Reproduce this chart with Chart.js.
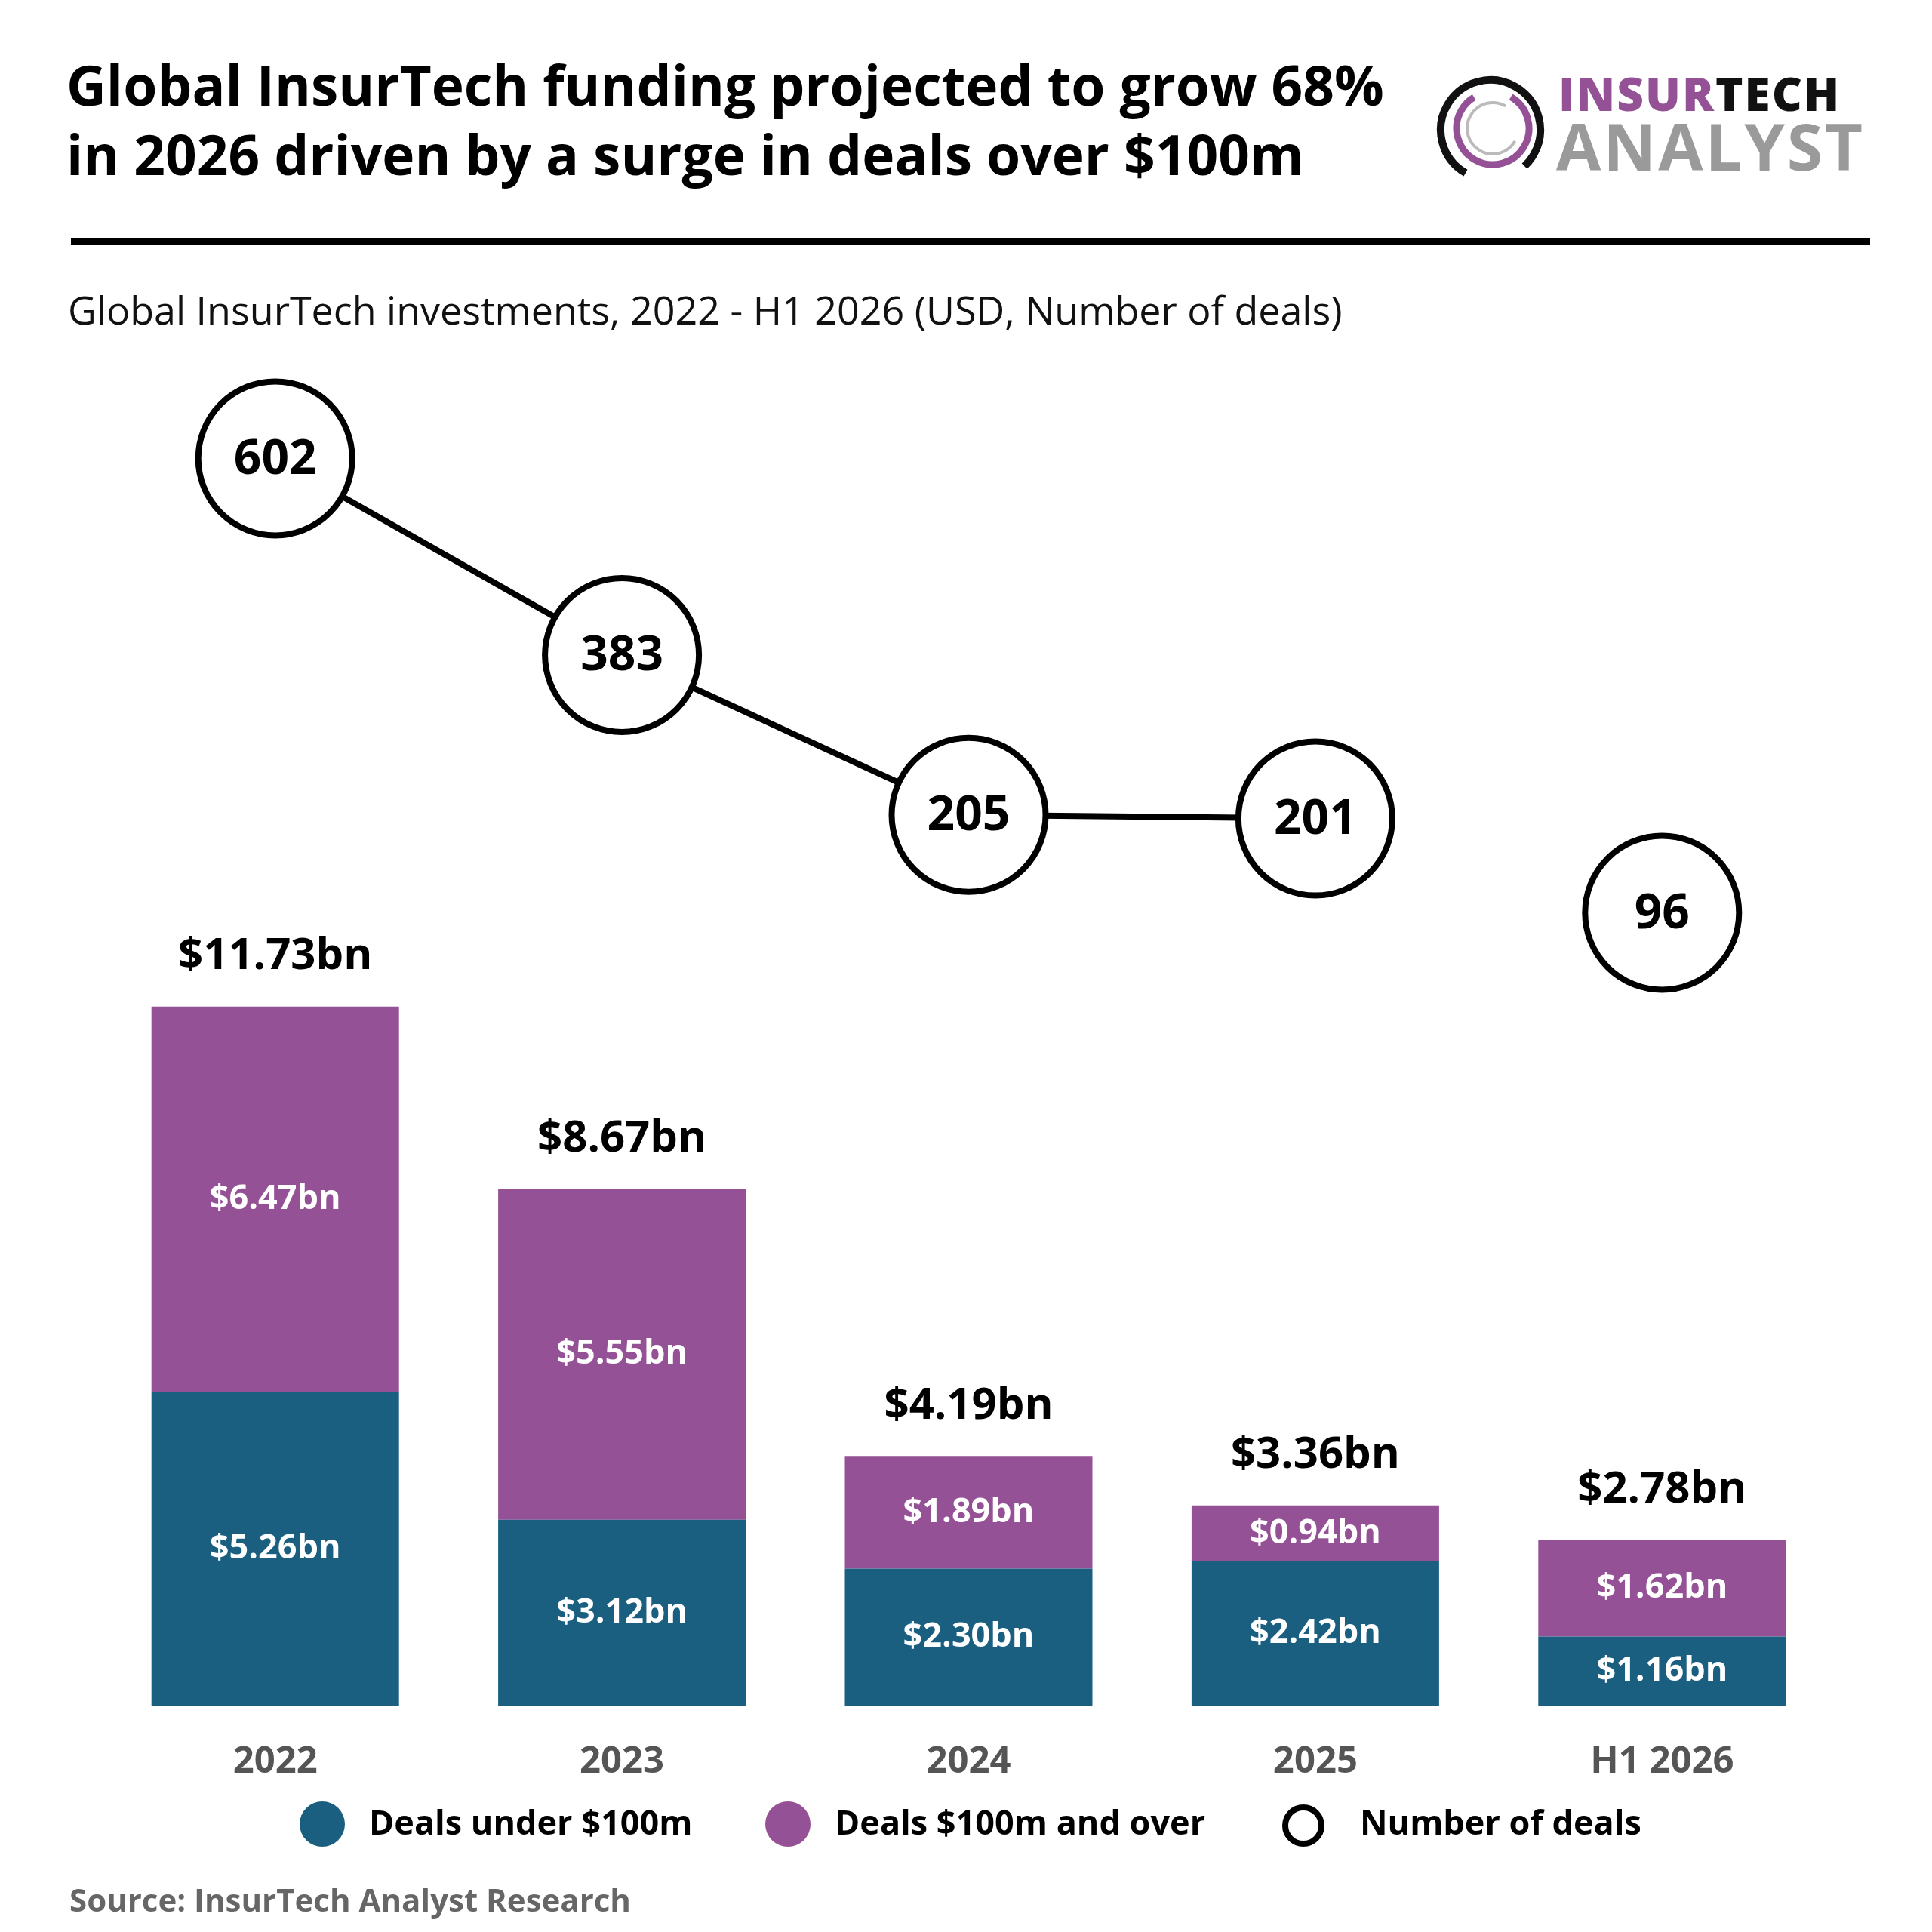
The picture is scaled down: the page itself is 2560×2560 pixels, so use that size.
<!DOCTYPE html>
<html>
<head>
<meta charset="utf-8">
<script src="https://cdn.jsdelivr.net/npm/chart.js@4.4.1/dist/chart.umd.min.js"></script>
<style>
  html, body { margin: 0; padding: 0; background: #fff; }
  #page { position: relative; width: 2560px; height: 2560px; overflow: hidden; font-family: "Open Sans", sans-serif; }
  #page div { position: absolute; white-space: nowrap; }
  .title { left: 88px; top: 66px; font-size: 73px; font-weight: 700; line-height: 92px; color: #000; }
  .rule { left: 94px; top: 316px; width: 2384px; height: 8px; background: #000; }
  .sub { left: 90px; top: 374px; font-size: 52px; color: #111; }
  .source { left: 92px; top: 2488px; font-size: 42px; font-weight: 700; color: #666; }
  canvas { position: absolute; left: 0; top: 0; }
</style>
</head>
<body>
<div id="page">
  <div class="title">Global InsurTech funding projected to grow 68%<br>in 2026 driven by a surge in deals over $100m</div>
  <svg style="position:absolute;left:1900px;top:95px" width="150" height="155" viewBox="0 0 150 155">
    <circle cx="75" cy="77" r="66" fill="none" stroke="#111" stroke-width="10" stroke-dasharray="330 85" transform="rotate(120 75 77)"/>
    <circle cx="78" cy="75" r="48" fill="none" stroke="#955196" stroke-width="9" stroke-dasharray="250 60" transform="rotate(-60 78 75)"/>
    <circle cx="78" cy="75" r="34" fill="none" stroke="#bbb" stroke-width="4" stroke-dasharray="160 60" transform="rotate(30 78 75)"/>
  </svg>
  <div style="left:2065px;top:88px;font-size:62px;font-weight:800;letter-spacing:2px;line-height:70px"><span style="color:#955196">INSUR</span><span style="color:#111">TECH</span></div>
  <div style="left:2062px;top:145px;font-size:86px;font-weight:700;letter-spacing:3px;color:#9a9a9a;line-height:96px">ANALYST</div>
  <div class="rule"></div>
  <div class="sub">Global InsurTech investments, 2022 - H1 2026 (USD, Number of deals)</div>
  <canvas id="c" width="2560" height="2560"></canvas>
  <div class="source">Source: InsurTech Analyst Research</div>
</div>
<script>
const years = ['2022', '2023', '2024', '2025', 'H1 2026'];
const under100m = [5.26, 3.12, 2.30, 2.42, 1.16];
const over100m = [6.47, 5.55, 1.89, 0.94, 1.62];
const totals = [11.73, 8.67, 4.19, 3.36, 2.78];
const dealCounts = [602, 383, 205, 201, 96];

const TEAL = '#1a5f80';
const PURPLE = '#955196';
const FONT = '"Open Sans", sans-serif';

const labelPlugin = {
  id: 'labels',
  afterDatasetsDraw(chart) {
    const ctx = chart.ctx;
    const x = chart.scales.x;
    const yb = chart.scales.y;
    ctx.save();
    ctx.textAlign = 'center';
    ctx.textBaseline = 'middle';
    // segment labels
    [0, 1].forEach(di => {
      chart.getDatasetMeta(di).data.forEach((bar, i) => {
        const v = chart.data.datasets[di].data[i];
        ctx.fillStyle = '#fff';
        ctx.font = '700 45px ' + FONT;
        ctx.fillText('$' + v.toFixed(2) + 'bn', bar.x, (bar.y + bar.base) / 2);
      });
    });
    // totals
    totals.forEach((t, i) => {
      ctx.fillStyle = '#000';
      ctx.font = '700 58px ' + FONT;
      ctx.fillText('$' + t.toFixed(2) + 'bn', x.getPixelForValue(i), yb.getPixelForValue(t) - 66);
    });
    // x tick labels
    years.forEach((y, i) => {
      ctx.fillStyle = '#555';
      ctx.font = '700 49px ' + FONT;
      ctx.fillText(y, x.getPixelForValue(i), 2335);
    });
    // circle numbers
    chart.getDatasetMeta(2).data.forEach((pt, i) => {
      ctx.fillStyle = '#000';
      ctx.font = '700 64px ' + FONT;
      ctx.fillText(String(dealCounts[i]), pt.x, pt.y + 2);
    });
    // legend
    ctx.textAlign = 'left';
    ctx.font = '700 45px ' + FONT;
    const items = [[427, TEAL, 'Deals under $100m', 489], [1044, PURPLE, 'Deals $100m and over', 1106], [1727, null, 'Number of deals', 1802]];
    items.forEach(([cx, col, txt, tx]) => {
      ctx.beginPath();
      if (col) {
        ctx.arc(cx, 2417, 30, 0, Math.PI * 2);
        ctx.fillStyle = col;
        ctx.fill();
      } else {
        ctx.arc(cx, 2419, 24, 0, Math.PI * 2);
        ctx.lineWidth = 8;
        ctx.strokeStyle = '#000';
        ctx.stroke();
      }
      ctx.fillStyle = '#000';
      ctx.fillText(txt, tx, 2418);
    });
    ctx.restore();
  }
};

new Chart(document.getElementById('c'), {
  data: {
    labels: years,
    datasets: [
      { type: 'bar', label: 'Deals under $100m', data: under100m, backgroundColor: TEAL, yAxisID: 'y', order: 2 },
      { type: 'bar', label: 'Deals $100m and over', data: over100m, backgroundColor: PURPLE, yAxisID: 'y', order: 2 },
      {
        type: 'line', label: 'Number of deals', data: dealCounts, yAxisID: 'y2', order: 1,
        borderColor: '#000', borderWidth: 8,
        pointRadius: 102, pointHoverRadius: 102, pointBackgroundColor: '#fff',
        pointBorderColor: '#000', pointBorderWidth: 8,
        segment: { borderColor: c => c.p1DataIndex === 4 ? 'rgba(0,0,0,0)' : '#000' }
      }
    ]
  },
  options: {
    responsive: false,
    animation: false,
    devicePixelRatio: 1,
    layout: { padding: { top: 492, bottom: 300, left: 135, right: 128 } },
    plugins: { legend: { display: false }, tooltip: { enabled: false } },
    datasets: { bar: { barPercentage: 0.714, categoryPercentage: 1 } },
    scales: {
      x: { display: false, stacked: true, offset: true },
      y: { display: false, stacked: true, min: 0, max: 22.39 },
      y2: { display: false, min: -787, max: 699 }
    }
  },
  plugins: [labelPlugin]
});
</script>
</body>
</html>
